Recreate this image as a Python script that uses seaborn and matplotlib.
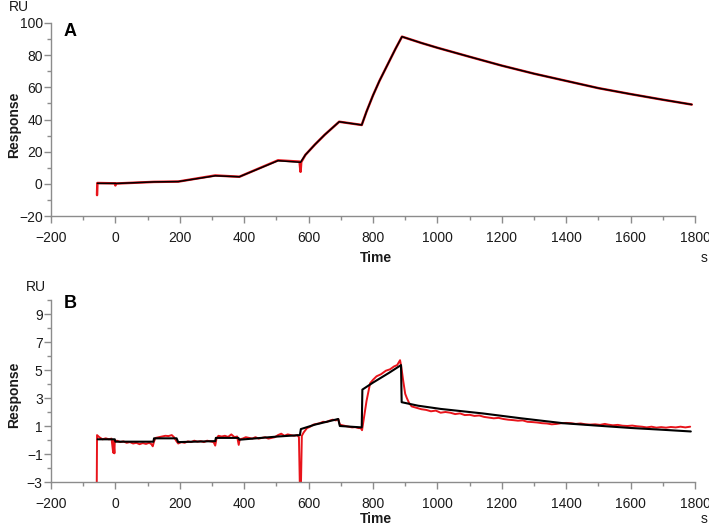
import matplotlib
matplotlib.use('Agg')
import pandas as pd
import matplotlib.pyplot as plt
import seaborn as sns
from matplotlib.ticker import MultipleLocator

# Panel A: fitted curve (black) and measured sensorgram (red)
a_fit_time = [-56, -2, 0, 120, 195, 310, 385, 505, 575, 590, 620, 650, 695, 765,
              780, 800, 820, 845, 870, 890, 950, 1000, 1100, 1200, 1300, 1400,
              1500, 1600, 1700, 1790]
a_fit_resp = [0.3, 0.3, 0.2, 1.2, 1.4, 5.0, 4.4, 14.4, 13.4, 18.0, 24.5, 30.5, 38.6,
              36.6, 45.0, 55.0, 64.0, 74.0, 84.0, 91.5, 87.6, 84.6, 79.0, 73.5,
              68.5, 64.0, 59.5, 55.8, 52.3, 49.3]
a_data_time = [-57, -56, -2, 0, 2, 120, 195, 310, 385, 505, 572, 575, 577, 590, 620,
               650, 695, 765, 780, 800, 820, 845, 870, 890, 950, 1000, 1100, 1200,
               1300, 1400, 1500, 1600, 1700, 1790]
a_data_resp = [-7.0, 0.5, 0.3, -1.0, 0.2, 1.2, 1.4, 5.2, 4.4, 14.6, 13.8, 7.5, 13.5,
               18.0, 24.5, 30.5, 38.6, 36.6, 45.0, 55.0, 64.0, 74.0, 84.0, 91.5,
               87.6, 84.6, 79.0, 73.5, 68.5, 64.0, 59.5, 55.8, 52.3, 49.3]

# Panel B: fitted curve (black) and measured sensorgram (red)
b_fit_time = [-55, -2, 0, 118, 120, 190, 195, 310, 312, 382, 385, 505, 573, 576, 620,
              692, 697, 765, 767, 800, 850, 887, 889, 940, 1010, 1140, 1260, 1390,
              1500, 1600, 1700, 1787]
b_fit_resp = [0.05, 0.05, -0.12, -0.12, 0.12, 0.12, -0.15, -0.08, 0.15, 0.15, 0.02,
              0.25, 0.35, 0.78, 1.1, 1.5, 1.0, 0.9, 3.6, 4.1, 4.8, 5.35, 2.7, 2.45,
              2.22, 1.9, 1.55, 1.2, 1.02, 0.86, 0.73, 0.61]
b_data_time = [-58, -57, -50, -40, -30, -20, -12, -7, -6, -3, -2, 5, 15, 25, 35, 45,
               55, 65, 75, 85, 95, 105, 112, 116, 120, 125, 135, 145, 155, 165, 175,
               182, 190, 195, 205, 215, 225, 235, 245, 255, 265, 275, 285, 295, 305,
               310, 314, 320, 330, 340, 350, 360, 370, 378, 383, 386, 395, 405, 415,
               425, 435, 445, 455, 465, 475, 485, 495, 505, 515, 525, 535, 545, 555,
               565, 570, 573, 576, 579, 585, 595, 605, 615, 625, 635, 645, 655, 665,
               675, 685, 692, 697, 705, 715, 725, 735, 745, 755, 762, 766, 772, 780,
               791, 800, 811, 825, 840, 853, 865, 875, 884, 888, 894, 900, 905, 912,
               920, 935, 950, 965, 980, 995, 1010, 1025, 1040, 1055, 1070, 1085,
               1100, 1115, 1130, 1145, 1160, 1175, 1190, 1205, 1220, 1235, 1250,
               1265, 1280, 1295, 1310, 1325, 1340, 1355, 1370, 1385, 1400, 1415,
               1430, 1445, 1460, 1475, 1490, 1505, 1520, 1530, 1545, 1560, 1575,
               1590, 1605, 1620, 1635, 1650, 1665, 1680, 1695, 1710, 1725, 1740,
               1755, 1770, 1785]
b_data_resp = [-3.5, 0.35, 0.2, 0.05, 0.12, 0.05, 0.1, -0.9, 0.0, -0.95, -0.1, -0.05,
               -0.15, -0.1, -0.2, -0.15, -0.25, -0.2, -0.3, -0.22, -0.28, -0.2, -0.3,
               -0.45, -0.1, 0.15, 0.2, 0.25, 0.3, 0.28, 0.35, 0.2, -0.1, -0.25, -0.15,
               -0.2, -0.1, -0.15, -0.05, -0.12, -0.08, -0.15, -0.05, -0.1, -0.15,
               -0.4, 0.1, 0.3, 0.25, 0.3, 0.22, 0.4, 0.2, 0.25, -0.35, 0.05, 0.1, 0.2,
               0.15, 0.1, 0.2, 0.1, 0.15, 0.2, 0.1, 0.15, 0.2, 0.35, 0.45, 0.3, 0.4,
               0.35, 0.3, 0.35, 0.2, -3.5, -3.5, 0.3, 0.55, 0.85, 0.95, 1.1, 1.15,
               1.2, 1.3, 1.28, 1.38, 1.45, 1.4, 1.5, 1.1, 1.05, 1.0, 0.95, 0.9, 0.92,
               0.85, 0.85, 0.7, 1.6, 2.8, 4.05, 4.3, 4.55, 4.7, 4.95, 5.05, 5.25,
               5.35, 5.7, 5.2, 4.2, 3.3, 3.0, 2.65, 2.4, 2.3, 2.2, 2.15, 2.05, 2.1,
               1.95, 2.0, 1.95, 1.85, 1.9, 1.78, 1.8, 1.72, 1.75, 1.65, 1.6, 1.55,
               1.58, 1.5, 1.45, 1.42, 1.38, 1.4, 1.3, 1.28, 1.25, 1.2, 1.18, 1.12,
               1.15, 1.2, 1.22, 1.2, 1.15, 1.18, 1.12, 1.1, 1.12, 1.08, 1.15, 1.1,
               1.05, 1.08, 1.02, 1.0, 1.03, 0.98, 0.95, 0.9, 0.95, 0.88, 0.92, 0.88,
               0.93, 0.9, 0.95, 0.9, 0.95]

sns.set_theme(style='ticks')
plt.rcParams['font.family'] = ['Liberation Sans', 'DejaVu Sans']

W, H = 709, 528
fig = plt.figure(figsize=(W / 100, H / 100), dpi=100)
ax_a = fig.add_axes([51 / W, 1 - 216 / H, 644 / W, 193 / H])
ax_b = fig.add_axes([51 / W, 1 - 482 / H, 644 / W, 182 / H])

grey = '#8c8c8c'


def style_axis(ax, ylim, ymajor, yminor, yticks=None):
    sns.despine(ax=ax)
    for side in ['left', 'bottom']:
        ax.spines[side].set_color(grey)
        ax.spines[side].set_linewidth(1)
    ax.set_xlim(-200, 1800)
    ax.set_ylim(*ylim)
    ax.xaxis.set_major_locator(MultipleLocator(200))
    ax.xaxis.set_minor_locator(MultipleLocator(100))
    if yticks is not None:
        ax.set_yticks(yticks)
    else:
        ax.yaxis.set_major_locator(MultipleLocator(ymajor))
    ax.yaxis.set_minor_locator(MultipleLocator(yminor))
    ax.tick_params(which='major', length=5, width=1, color=grey,
                   labelsize=10, labelcolor='#1a1a1a')
    ax.tick_params(which='minor', length=3, width=1, color=grey)
    ax.tick_params(axis='x', which='major', pad=5.5)
    ax.tick_params(axis='y', which='major', pad=1)
    ax.set_xlabel('')
    ax.set_ylabel('')


# panel A
df = pd.DataFrame({'Time': a_data_time, 'Response': a_data_resp})
sns.lineplot(data=df, x='Time', y='Response', ax=ax_a, color='#e8141b',
             linewidth=1.8, sort=False, estimator=None)
df = pd.DataFrame({'Time': a_fit_time, 'Response': a_fit_resp})
sns.lineplot(data=df, x='Time', y='Response', ax=ax_a, color='black',
             linewidth=1.1, sort=False, estimator=None)
style_axis(ax_a, (-20, 100), 20, 10)

# panel B
df = pd.DataFrame({'Time': b_data_time, 'Response': b_data_resp})
sns.lineplot(data=df, x='Time', y='Response', ax=ax_b, color='#e8141b',
             linewidth=1.4, sort=False, estimator=None)
df = pd.DataFrame({'Time': b_fit_time, 'Response': b_fit_resp})
sns.lineplot(data=df, x='Time', y='Response', ax=ax_b, color='black',
             linewidth=1.5, sort=False, estimator=None)
style_axis(ax_b, (-3, 10), None, 1, yticks=[-3, -1, 1, 3, 5, 7, 9])

# labels
for ycen, ytime, yru, xru, letter, ylet in [(125, 258, 7, 19, 'A', 31),
                                             (395, 519, 287, 36, 'B', 303)]:
    fig.text(14 / W, 1 - ycen / H, 'Response', rotation=90, ha='center',
             va='center', fontsize=10, fontweight='bold', color='#1a1a1a')
    fig.text(376 / W, 1 - ytime / H, 'Time', ha='center', va='center',
             fontsize=10, fontweight='bold', color='#1a1a1a')
    fig.text(704 / W, 1 - ytime / H, 's', ha='center', va='center',
             fontsize=10, color='#1a1a1a')
    fig.text(xru / W, 1 - yru / H, 'RU', ha='center', va='center',
             fontsize=10, color='#1a1a1a')
    fig.text(70 / W, 1 - ylet / H, letter, ha='center', va='center',
             fontsize=13, fontweight='bold', color='black')

fig.savefig('out.png', dpi=100)
